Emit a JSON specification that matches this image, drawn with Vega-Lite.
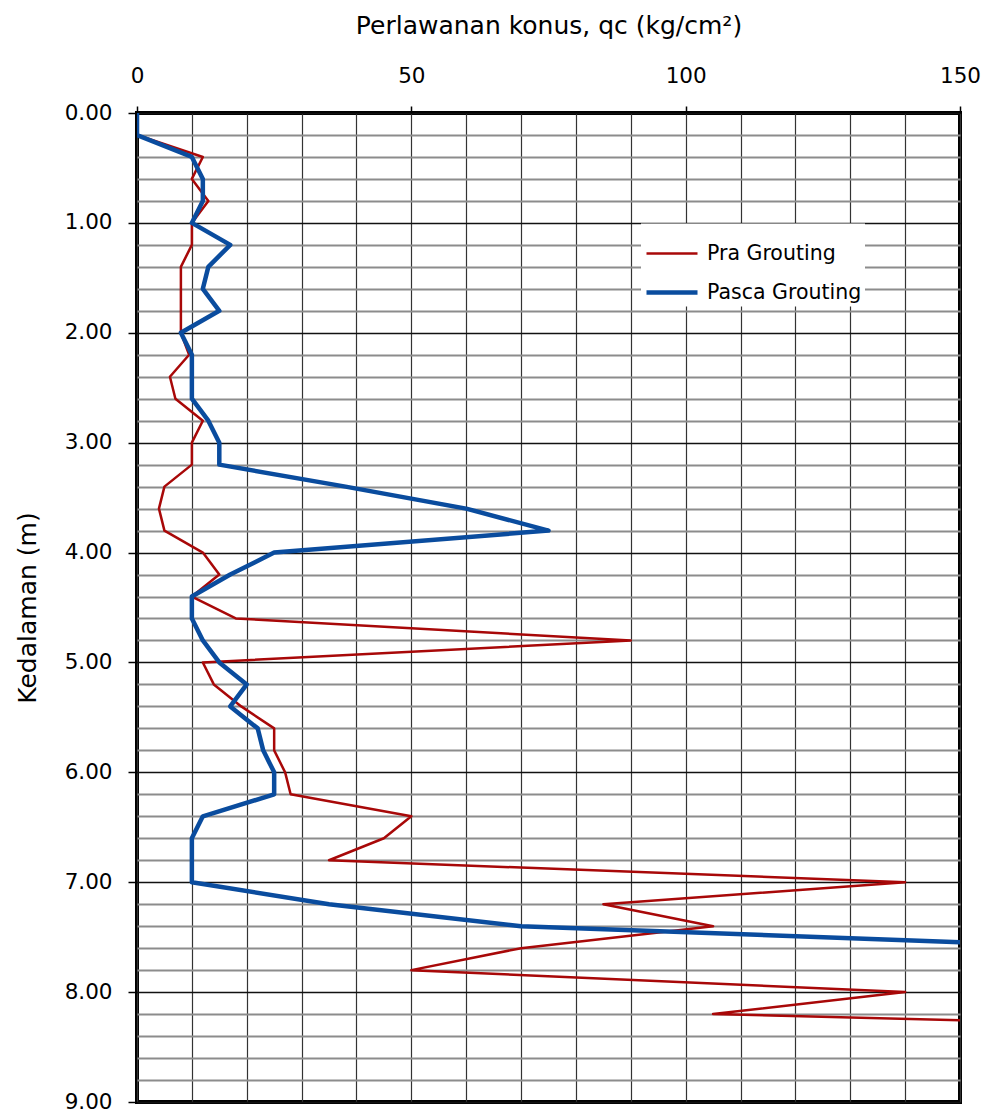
{
  "$schema": "https://vega.github.io/schema/vega-lite/v6.json",
  "width": 823,
  "height": 989,
  "autosize": {"type": "none"},
  "padding": {"left": 137, "top": 113, "right": 30, "bottom": 13},
  "background": "white",
  "data": {
    "values": [
      {"depth": 0.0, "series": "Pra Grouting", "qc": 0},
      {"depth": 0.2, "series": "Pra Grouting", "qc": 0},
      {"depth": 0.4, "series": "Pra Grouting", "qc": 12},
      {"depth": 0.6, "series": "Pra Grouting", "qc": 10},
      {"depth": 0.8, "series": "Pra Grouting", "qc": 13},
      {"depth": 1.0, "series": "Pra Grouting", "qc": 10},
      {"depth": 1.2, "series": "Pra Grouting", "qc": 10},
      {"depth": 1.4, "series": "Pra Grouting", "qc": 8},
      {"depth": 1.6, "series": "Pra Grouting", "qc": 8},
      {"depth": 1.8, "series": "Pra Grouting", "qc": 8},
      {"depth": 2.0, "series": "Pra Grouting", "qc": 8},
      {"depth": 2.2, "series": "Pra Grouting", "qc": 9.5},
      {"depth": 2.4, "series": "Pra Grouting", "qc": 6},
      {"depth": 2.6, "series": "Pra Grouting", "qc": 7},
      {"depth": 2.8, "series": "Pra Grouting", "qc": 12},
      {"depth": 3.0, "series": "Pra Grouting", "qc": 10},
      {"depth": 3.2, "series": "Pra Grouting", "qc": 10},
      {"depth": 3.4, "series": "Pra Grouting", "qc": 5},
      {"depth": 3.6, "series": "Pra Grouting", "qc": 4},
      {"depth": 3.8, "series": "Pra Grouting", "qc": 5},
      {"depth": 4.0, "series": "Pra Grouting", "qc": 12},
      {"depth": 4.2, "series": "Pra Grouting", "qc": 15},
      {"depth": 4.4, "series": "Pra Grouting", "qc": 10},
      {"depth": 4.6, "series": "Pra Grouting", "qc": 18},
      {"depth": 4.8, "series": "Pra Grouting", "qc": 90},
      {"depth": 5.0, "series": "Pra Grouting", "qc": 12},
      {"depth": 5.2, "series": "Pra Grouting", "qc": 14},
      {"depth": 5.4, "series": "Pra Grouting", "qc": 19},
      {"depth": 5.6, "series": "Pra Grouting", "qc": 25},
      {"depth": 5.8, "series": "Pra Grouting", "qc": 25},
      {"depth": 6.0, "series": "Pra Grouting", "qc": 27},
      {"depth": 6.2, "series": "Pra Grouting", "qc": 28},
      {"depth": 6.4, "series": "Pra Grouting", "qc": 50},
      {"depth": 6.6, "series": "Pra Grouting", "qc": 45},
      {"depth": 6.8, "series": "Pra Grouting", "qc": 35},
      {"depth": 7.0, "series": "Pra Grouting", "qc": 140},
      {"depth": 7.2, "series": "Pra Grouting", "qc": 85},
      {"depth": 7.4, "series": "Pra Grouting", "qc": 105},
      {"depth": 7.6, "series": "Pra Grouting", "qc": 70},
      {"depth": 7.8, "series": "Pra Grouting", "qc": 50},
      {"depth": 8.0, "series": "Pra Grouting", "qc": 140},
      {"depth": 8.2, "series": "Pra Grouting", "qc": 105},
      {"depth": 8.4, "series": "Pra Grouting", "qc": 265},
      {"depth": 0.0, "series": "Pasca Grouting", "qc": 0},
      {"depth": 0.2, "series": "Pasca Grouting", "qc": 0},
      {"depth": 0.4, "series": "Pasca Grouting", "qc": 10},
      {"depth": 0.6, "series": "Pasca Grouting", "qc": 12},
      {"depth": 0.8, "series": "Pasca Grouting", "qc": 12},
      {"depth": 1.0, "series": "Pasca Grouting", "qc": 10},
      {"depth": 1.2, "series": "Pasca Grouting", "qc": 17},
      {"depth": 1.4, "series": "Pasca Grouting", "qc": 13},
      {"depth": 1.6, "series": "Pasca Grouting", "qc": 12},
      {"depth": 1.8, "series": "Pasca Grouting", "qc": 15},
      {"depth": 2.0, "series": "Pasca Grouting", "qc": 8},
      {"depth": 2.2, "series": "Pasca Grouting", "qc": 10},
      {"depth": 2.4, "series": "Pasca Grouting", "qc": 10},
      {"depth": 2.6, "series": "Pasca Grouting", "qc": 10},
      {"depth": 2.8, "series": "Pasca Grouting", "qc": 13},
      {"depth": 3.0, "series": "Pasca Grouting", "qc": 15},
      {"depth": 3.2, "series": "Pasca Grouting", "qc": 15},
      {"depth": 3.4, "series": "Pasca Grouting", "qc": 38},
      {"depth": 3.6, "series": "Pasca Grouting", "qc": 60},
      {"depth": 3.8, "series": "Pasca Grouting", "qc": 75},
      {"depth": 4.0, "series": "Pasca Grouting", "qc": 25},
      {"depth": 4.2, "series": "Pasca Grouting", "qc": 17},
      {"depth": 4.4, "series": "Pasca Grouting", "qc": 10},
      {"depth": 4.6, "series": "Pasca Grouting", "qc": 10},
      {"depth": 4.8, "series": "Pasca Grouting", "qc": 12},
      {"depth": 5.0, "series": "Pasca Grouting", "qc": 15},
      {"depth": 5.2, "series": "Pasca Grouting", "qc": 20},
      {"depth": 5.4, "series": "Pasca Grouting", "qc": 17},
      {"depth": 5.6, "series": "Pasca Grouting", "qc": 22},
      {"depth": 5.8, "series": "Pasca Grouting", "qc": 23},
      {"depth": 6.0, "series": "Pasca Grouting", "qc": 25},
      {"depth": 6.2, "series": "Pasca Grouting", "qc": 25},
      {"depth": 6.4, "series": "Pasca Grouting", "qc": 12},
      {"depth": 6.6, "series": "Pasca Grouting", "qc": 10},
      {"depth": 6.8, "series": "Pasca Grouting", "qc": 10},
      {"depth": 7.0, "series": "Pasca Grouting", "qc": 10},
      {"depth": 7.2, "series": "Pasca Grouting", "qc": 35},
      {"depth": 7.4, "series": "Pasca Grouting", "qc": 70},
      {"depth": 7.6, "series": "Pasca Grouting", "qc": 180}
    ]
  },
  "mark": {"type": "line", "clip": true, "strokeJoin": "round"},
  "encoding": {
    "x": {
      "field": "qc",
      "type": "quantitative",
      "scale": {"domain": [0, 150], "nice": false, "zero": false},
      "axis": {
        "orient": "top",
        "title": "Perlawanan konus, qc (kg/cm²)",
        "values": [0, 10, 20, 30, 40, 50, 60, 70, 80, 90, 100, 110, 120, 130, 140, 150],
        "labelExpr": "datum.value % 50 === 0 ? datum.label : ''",
        "grid": true,
        "gridColor": "#333333",
        "gridWidth": 1.2,
        "tickColor": {"condition": {"test": "datum.value % 50 === 0", "value": "black"}, "value": "transparent"},
        "tickSize": 7,
        "tickWidth": 1.5,
        "labelPadding": 24,
        "labelBaseline": "alphabetic",
        "labelFontSize": 21.5,
        "labelOverlap": false,
        "labelFlush": false,
        "domain": false,
        "titleX": 411.5,
        "titleY": -80,
        "titleBaseline": "alphabetic",
        "titleFontSize": 25
      }
    },
    "y": {
      "field": "depth",
      "type": "quantitative",
      "scale": {"domain": [0, 9], "reverse": true, "nice": false, "zero": false},
      "axis": {
        "title": "Kedalaman (m)",
        "values": [0, 0.2, 0.4, 0.6, 0.8, 1, 1.2, 1.4, 1.6, 1.8, 2, 2.2, 2.4, 2.6, 2.8, 3, 3.2, 3.4, 3.6, 3.8, 4, 4.2, 4.4, 4.6, 4.8, 5, 5.2, 5.4, 5.6, 5.8, 6, 6.2, 6.4, 6.6, 6.8, 7, 7.2, 7.4, 7.6, 7.8, 8, 8.2, 8.4, 8.6, 8.8, 9],
        "labelExpr": "datum.value % 1 === 0 ? format(datum.value, '.2f') : ''",
        "grid": true,
        "gridColor": {"condition": {"test": "datum.value % 1 === 0", "value": "#111111"}, "value": "#8c8c8c"},
        "gridWidth": {"condition": {"test": "datum.value % 1 === 0", "value": 1.4}, "value": 1.8},
        "tickColor": {"condition": {"test": "datum.value % 1 === 0", "value": "black"}, "value": "transparent"},
        "tickSize": 9,
        "tickWidth": 1.5,
        "labelPadding": 16,
        "labelFontSize": 21.5,
        "labelOverlap": false,
        "labelFlush": false,
        "domain": false,
        "titleX": -102,
        "titleY": 494.5,
        "titleAngle": 270,
        "titleBaseline": "alphabetic",
        "titleFontSize": 25
      }
    },
    "order": {"field": "depth", "type": "quantitative"},
    "color": {
      "field": "series",
      "type": "nominal",
      "sort": ["Pra Grouting", "Pasca Grouting"],
      "scale": {"domain": ["Pra Grouting", "Pasca Grouting"], "range": ["#A80808", "#0A4C9E"]},
      "legend": {
        "title": null,
        "orient": "none",
        "legendX": 504,
        "legendY": 110.5,
        "fillColor": "white",
        "padding": 3,
        "symbolType": "stroke",
        "symbolSize": 2601,
        "labelFontSize": 20.5,
        "labelFont": "DejaVu Sans",
        "labelColor": "black",
        "rowPadding": -10,
        "labelOffset": 7,
        "labelLimit": 400
      }
    },
    "strokeWidth": {
      "field": "series",
      "type": "nominal",
      "sort": ["Pra Grouting", "Pasca Grouting"],
      "scale": {"domain": ["Pra Grouting", "Pasca Grouting"], "range": [2.5, 4.5]},
      "legend": {
        "title": null,
        "orient": "none",
        "legendX": 504,
        "legendY": 110.5,
        "fillColor": "white",
        "padding": 3,
        "symbolType": "stroke",
        "symbolSize": 2601,
        "labelFontSize": 20.5,
        "labelFont": "DejaVu Sans",
        "labelColor": "black",
        "rowPadding": -10,
        "labelOffset": 7,
        "labelLimit": 400
      }
    }
  },
  "config": {
    "view": {"stroke": "black", "strokeWidth": 4},
    "font": "DejaVu Sans",
    "axis": {
      "labelFont": "DejaVu Sans",
      "titleFont": "DejaVu Sans",
      "labelColor": "black",
      "titleColor": "black",
      "titleFontWeight": "normal"
    }
  }
}
